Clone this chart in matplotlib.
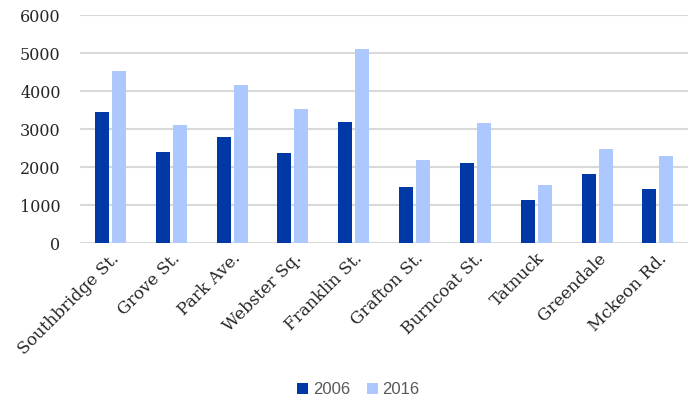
import matplotlib.pyplot as plt
import numpy as np

# streets and counts for each year
streets = ['Southbridge St.', 'Grove St.', 'Park Ave.', 'Webster Sq.', 'Franklin St.',
           'Grafton St.', 'Burncoat St.', 'Tatnuck', 'Greendale', 'Mckeon Rd.']
counts_2006 = [3440, 2400, 2780, 2380, 3190, 1480, 2100, 1130, 1820, 1430]
counts_2016 = [4520, 3100, 4160, 3520, 5110, 2180, 3170, 1530, 2470, 2280]

fig = plt.figure(figsize=(6.96, 4.0), dpi=100)
ax = fig.add_axes([0.115, 0.3925, 0.874, 0.57])

x = np.arange(len(streets))
w = 0.23
ax.bar(x - 0.14, counts_2006, w, color='#0039A6', label='2006', zorder=3)
ax.bar(x + 0.14, counts_2016, w, color='#ADC8FF', label='2016', zorder=3)

ax.set_xlim(-0.5, len(streets) - 0.5)
ax.set_ylim(0, 6000)
ax.set_yticks(range(0, 6001, 1000))
ax.grid(axis='y', color='#d9d9d9', linewidth=1.5, zorder=0)
for s in ax.spines.values():
    s.set_visible(False)
ax.tick_params(length=0)
ax.tick_params(axis='y', pad=14)
ax.tick_params(axis='x', pad=5)

ax.set_xticks(x)
ax.set_xticklabels(streets, rotation=45, ha='right', rotation_mode='anchor')
for lab in ax.get_xticklabels():
    lab.set_family('DejaVu Serif')
    lab.set_fontsize(12.2)
    lab.set_color('#262626')
for lab in ax.get_yticklabels():
    lab.set_family('DejaVu Serif')
    lab.set_fontsize(11.5)
    lab.set_color('#262626')

leg = fig.legend(loc='lower center', bbox_to_anchor=(0.515, -0.03), ncol=2, frameon=False,
                 handlelength=0.65, handleheight=0.65, handletextpad=0.3, columnspacing=1.0,
                 prop={'family': 'Liberation Sans', 'size': 12})
for t in leg.get_texts():
    t.set_color('#595959')

fig.savefig('out.png', dpi=100)
